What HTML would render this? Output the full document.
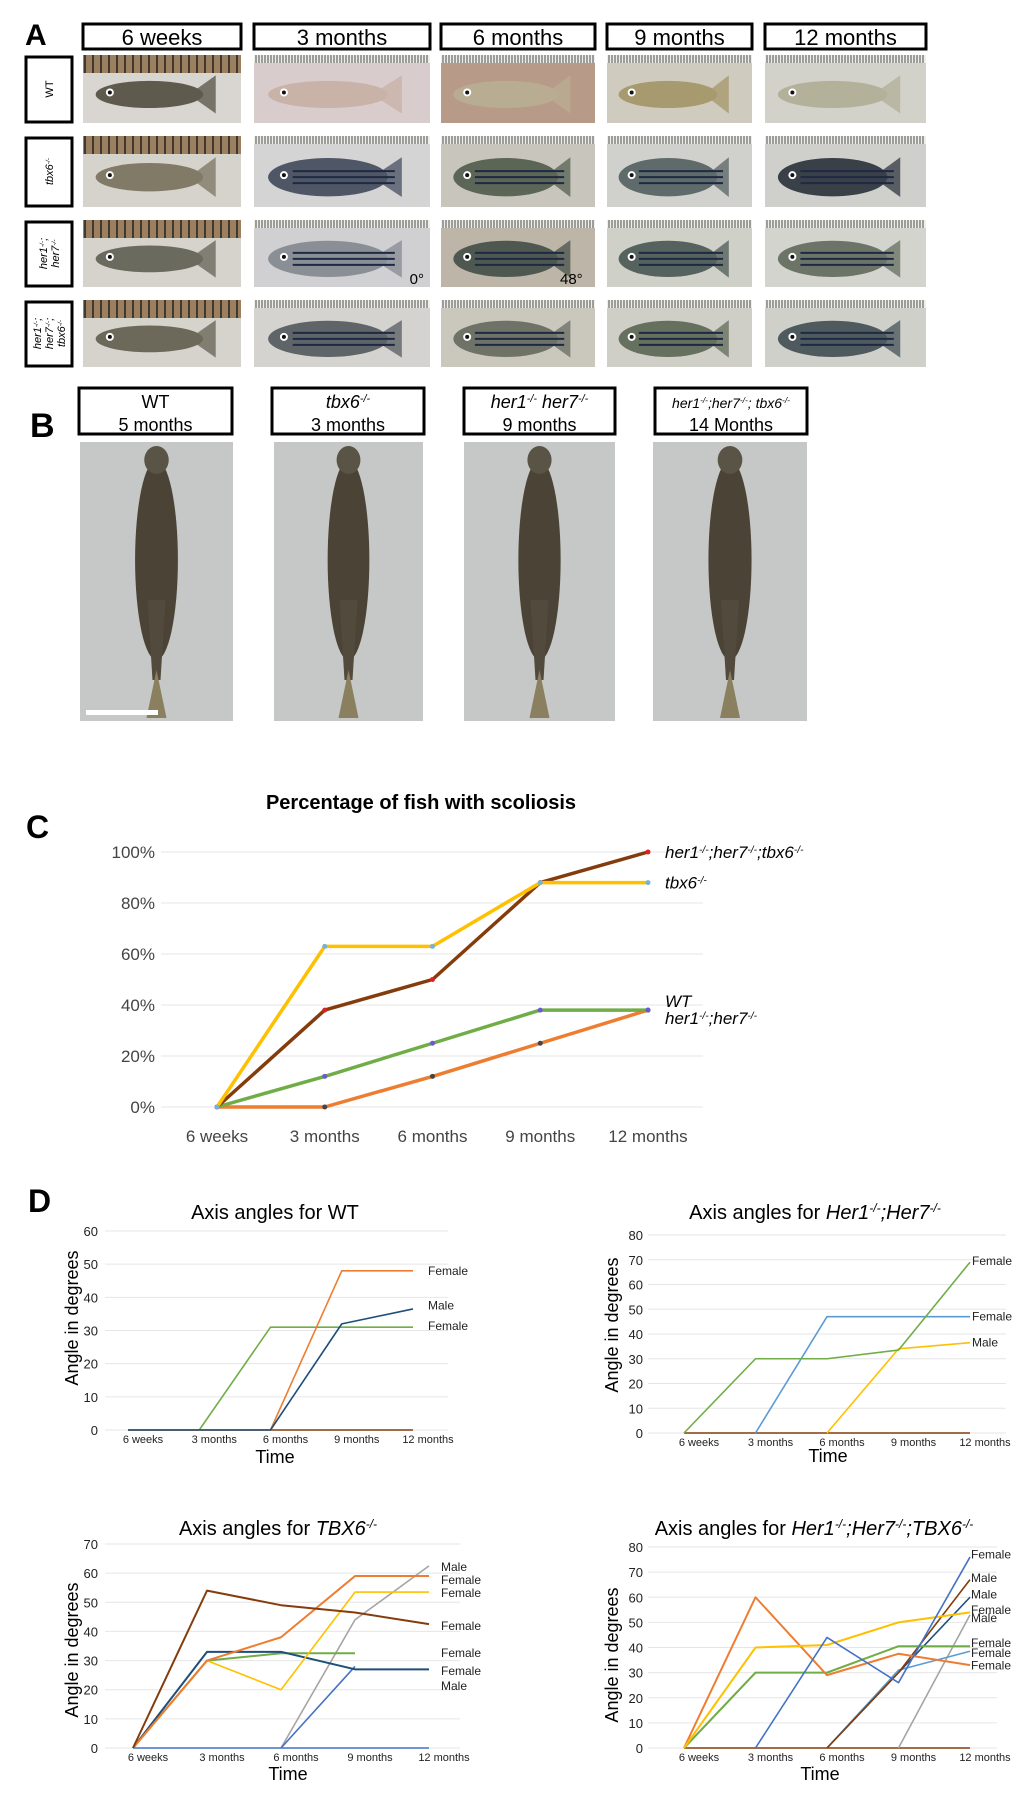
<!DOCTYPE html>
<html><head><meta charset="utf-8"><style>
html,body{margin:0;padding:0;background:#fff;}
svg{display:block;font-family:"Liberation Sans",sans-serif;}
</style></head><body>
<svg id="fig" width="1020" height="1809" viewBox="0 0 1020 1809" xmlns="http://www.w3.org/2000/svg"></svg>
<script>
// ---------- Panel C data ----------
const cCategories = ["6 weeks","3 months","6 months","9 months","12 months"];
const cTicks = [0,20,40,60,80,100];
const cTbx6 = [0,63,63,88,88];
const cTriple = [0,38,50,88,100];
const cWT = [0,12,25,38,38];
const cHer = [0,0,12,25,38];

// ---------- Panel D data ----------
const dCategories = ["6 weeks","3 months","6 months","9 months","12 months"];
const wtTicks = [0,10,20,30,40,50,60];
const wtOrange = [0,0,0,48,48];
const wtNavy = [0,0,0,32,36.5];
const wtGreen = [0,0,31,31,31];
const wtBrown = [0,0,0,0,0];
const wtLabels = ["Female","Male","Female"];
const wtLabelVals = [48,37.5,31.3];

const herTicks = [0,10,20,30,40,50,60,70,80];
const herGreen = [0,30,30,33.5,69];
const herBlue = [null,0,47,47,47];
const herYellow = [null,null,0,34,36.5];
const herBrown = [0,0,0,0,0];
const herLabels = ["Female","Female","Male"];
const herLabelVals = [69.5,47,36.5];

const tbxTicks = [0,10,20,30,40,50,60,70];
const tbxBlueBase = [0,0,0,0,0];
const tbxBrown = [0,54,49,46.5,42.5];
const tbxOrange = [0,30,38,59,59];
const tbxYellow = [0,30,20,53.5,53.5];
const tbxGreen = [0,30,32.5,32.5,null];
const tbxNavy = [0,33,33,27,27];
const tbxBlue = [null,null,0,28,null];
const tbxGray = [null,null,0,44,62.5];
const tbxLabels = ["Male","Female","Female","Female","Female","Female","Male"];
const tbxLabelVals = [62.1,57.6,53.2,41.9,32.6,26.4,21.3];

const triTicks = [0,10,20,30,40,50,60,70,80];
const triOrange = [0,60,29,37.5,33];
const triYellow = [0,40,41,50,54];
const triGreen = [0,30,30,40.5,40.5];
const triBrownBase = [0,0,0,0,0];
const triBlue = [null,0,44,26,76];
const triLight = [null,null,0,31,38.5];
const triBrown = [null,null,0,30,67];
const triNavy = [null,null,0,30,60];
const triGray = [null,null,null,0,53];
const triLabels = ["Female","Male","Male","Female","Male","Female","Female","Female"];
const triLabelVals = [77,67.6,61,55,51.7,41.8,37.8,32.9];

const NS = "http://www.w3.org/2000/svg";
const svg = document.getElementById("fig");
function mk(tag, attrs, parent){
  const e = document.createElementNS(NS, tag);
  for (const k in attrs) e.setAttribute(k, attrs[k]);
  (parent||svg).appendChild(e);
  return e;
}
function txt(x,y,s,size,opts,parent){
  opts = opts||{};
  const t = mk("text",{x:x,y:y,"font-size":size,fill:opts.fill||"#000","text-anchor":opts.anchor||"start"},parent);
  if (opts.weight) t.setAttribute("font-weight",opts.weight);
  if (opts.italic) t.setAttribute("font-style","italic");
  if (opts.transform) t.setAttribute("transform",opts.transform);
  t.textContent = s;
  return t;
}
function rich(x,y,parts,size,opts,parent){
  opts=opts||{};
  const t = mk("text",{x:x,y:y,"font-size":size,fill:"#000","text-anchor":opts.anchor||"start"},parent);
  if (opts.transform) t.setAttribute("transform",opts.transform);
  parts.forEach(p=>{
    const s = document.createElementNS(NS,"tspan");
    s.textContent = p[0];
    if (p[1]) { s.setAttribute("font-size", size*0.6); s.setAttribute("baseline-shift","super"); }
    if (p[2]) s.setAttribute("font-style","italic");
    t.appendChild(s);
  });
  return t;
}

// ---------------- Panel A ----------------
const aLabel = txt(25,45,"A",30,{weight:"bold"});


const colX = [[83,241],[254,430],[441,595],[607,752],[765,926]];
const colHead = ["6 weeks","3 months","6 months","9 months","12 months"];
colX.forEach((c,i)=>{
  const g = mk("g",{});
  
  
  mk("rect",{x:c[0],y:24,width:c[1]-c[0],height:25,fill:"#fff",stroke:"#000","stroke-width":3},g);
  txt((c[0]+c[1])/2,45,colHead[i],22,{anchor:"middle"},g);
});
const rowY = [[55,123],[136,207],[220,287],[300,367]];
const rowLab = [[["WT",0,0]],[["tbx6",0,1],["-/-",1,1]],[["her1",0,1],["-/-",1,1],[";",0,1]],[["her1",0,1],["-/-",1,1],[";",0,1]]];
const rowLab2 = [null,null,[["her7",0,1],["-/-",1,1]],[["her7",0,1],["-/-",1,1],[";",0,1]]];
const rowLab3 = [null,null,null,[["tbx6",0,1],["-/-",1,1]]];
rowY.forEach((r,i)=>{
  const g = mk("g",{});
  
  
  mk("rect",{x:26,y:r[0]+2,width:46,height:r[1]-r[0]-3,fill:"#fff",stroke:"#000","stroke-width":3},g);
  const cy=(r[0]+r[1])/2;
  const lines=[rowLab[i],rowLab2[i],rowLab3[i]].filter(Boolean);
  lines.forEach((ln,j)=>{
    const off=(j-(lines.length-1)/2)*12+4;
    const cx=49+off;
    rich(cx,cy,ln,11,{anchor:"middle",transform:"rotate(-90 "+cx+" "+cy+")"},g);
  });
});
const bgCol = [["#d9d6d2","#d8cccc","#b89a88","#cfcbbf","#d2d2ca"],
               ["#d6d3cd","#d4d4d4","#c8c6bc","#d0d0cc","#cfd0cb"],
               ["#d6d3cd","#d0d0d2","#bdb5a8","#cfd0c8","#d3d4ce"],
               ["#d6d3cd","#d4d3d0","#cac7bd","#cfcfc8","#cfd0ca"]];
const fishCol = [["#5e5a4e","#c9b3a8","#b8ad92","#a69a6e","#b4b19a"],
                 ["#807a66","#4f5666","#5c6656","#5f6a6a","#3a4048"],
                 ["#6b6a5e","#8a8f96","#4f5850","#55625e","#6c7468"],
                 ["#6c685a","#5f6468","#6f7266","#66705e","#4e5a5e"]];
rowY.forEach((r,i)=>{
  colX.forEach((c,j)=>{
    const g = mk("g",{});
    
    
    const w=c[1]-c[0], h=r[1]-r[0];
    mk("rect",{x:c[0],y:r[0],width:w,height:h,fill:bgCol[i][j]},g);
    const rh = j===0?18:8;
    mk("rect",{x:c[0],y:r[0],width:w,height:rh,fill:j===0?"#9c7f5e":"#eeeeea"},g);
    for(let k=c[0]+2;k<c[1];k+=(j===0?8:3)){
      mk("line",{x1:k,y1:r[0],x2:k,y2:r[0]+rh,stroke:"#222","stroke-width":j===0?1.5:0.8},g);
    }
    const cx=c[0]+w*0.42, cy=r[0]+h*0.58;
    mk("polygon",{points:(cx+w*0.25)+","+cy+" "+(cx+w*0.42)+","+(cy-h*0.28)+" "+(cx+w*0.42)+","+(cy+h*0.28),fill:fishCol[i][j],opacity:0.8},g);
    mk("ellipse",{cx:cx,cy:cy,rx:w*0.34,ry:h*(i===0||j===0?0.2:0.27),fill:fishCol[i][j]},g);
    if(i>0 && j>0){
      for(let s=-1;s<=1;s++) mk("line",{x1:cx-w*0.2,y1:cy+s*6,x2:cx+w*0.38,y2:cy+s*6,stroke:"#1e2a44","stroke-width":2},g);
    }
    mk("circle",{cx:cx-w*0.25,cy:cy-2,r:4,fill:"#fff"},g);
    mk("circle",{cx:cx-w*0.25,cy:cy-2,r:2,fill:"#111"},g);
  });
});
txt(424,284,"0°",15,{anchor:"end"});
txt(560,284,"48°",15);

// ---------------- Panel B ----------------
const bLabel = txt(30,437,"B",34,{weight:"bold"});


const bBox = [[79,232],[272,424],[464,615],[655,807]];
const bImg = [[80,233],[274,423],[464,615],[653,807]];
const bTitle1 = [[["WT",0,0]],[["tbx6",0,1],["-/-",1,1]],[["her1",0,1],["-/-",1,1],[" her7",0,1],["-/-",1,1]],[["her1",0,1],["-/-",1,1],[";her7",0,1],["-/-",1,1],["; tbx6",0,1],["-/-",1,1]]];
const bTitle2 = ["5 months","3 months","9 months","14 Months"];
bBox.forEach((c,i)=>{
  const g = mk("g",{});
  
  
  mk("rect",{x:c[0],y:388,width:c[1]-c[0],height:46,fill:"#fff",stroke:"#000","stroke-width":3},g);
  rich((c[0]+c[1])/2,408,bTitle1[i],i===3?14:18,{anchor:"middle"},g);
  txt((c[0]+c[1])/2,431,bTitle2[i],18,{anchor:"middle"},g);
});
bImg.forEach((c,i)=>{
  const g = mk("g",{});
  
  
  const w=c[1]-c[0];
  mk("rect",{x:c[0],y:442,width:w,height:279,fill:"#c5c8c6"},g);
  const cx=c[0]+w*0.5;
  mk("ellipse",{cx:cx,cy:560,rx:w*0.14,ry:100,fill:"#4b4336"},g);
  mk("polygon",{points:(cx-9)+",600 "+(cx+9)+",600 "+(cx+4)+",680 "+(cx-4)+",680",fill:"#524a3c"},g);
  mk("polygon",{points:cx+",670 "+(cx-10)+",718 "+(cx+10)+",718",fill:"#8a8060"},g);
  mk("ellipse",{cx:cx,cy:460,rx:w*0.08,ry:14,fill:"#5a5446"},g);
});
const sb = mk("rect",{x:86,y:710,width:72,height:5,fill:"#fff"});



// ---------------- Panel C ----------------
(function(){
  const x0=217, dx=(648-217)/4, yB=1107, yT=852;
  const X=i=>x0+i*dx, Y=v=>yB-(v/100)*(yB-yT);
  const cl = txt(26,838,"C",32,{weight:"bold"});
  
  
  const t = txt(421,809,"Percentage of fish with scoliosis",20,{anchor:"middle",weight:"bold"});
  
  
  cTicks.forEach(v=>{
    const gl = mk("line",{x1:161,x2:703,y1:Y(v),y2:Y(v),stroke:"#e4e4e4","stroke-width":1});
    
    
    const tl = txt(155,Y(v)+6,v+"%",17,{anchor:"end",fill:"#444"});
    
    
  });
  cCategories.forEach((c,i)=>{
    const tl = txt(X(i),1142,c,17,{anchor:"middle",fill:"#444"});
    
    
  });
  const series=[[cHer,"#ed7d31","#444"],[cWT,"#70ad47","#6a5acd"],[cTriple,"#843c0c","#e02020"],[cTbx6,"#ffc000","#7ab0d0"]];
  const names=["her1-her7","wt","triple","tbx6"];
  series.forEach((s,k)=>{
    const p = mk("polyline",{points:s[0].map((v,i)=>X(i)+","+Y(v)).join(" "),fill:"none",stroke:s[1],"stroke-width":3.5,"stroke-linejoin":"round"});
    
    
    s[0].forEach((v,i)=>{
      const m = mk("circle",{cx:X(i),cy:Y(v),r:2.5,fill:s[2]});
      
      
    });
  });
  const l1 = rich(665,Y(cTriple[4])+6,[["her1",0,1],["-/-",1,1],[";her7",0,1],["-/-",1,1],[";tbx6",0,1],["-/-",1,1]],17);
   
  const l2 = rich(665,Y(cTbx6[4])+6,[["tbx6",0,1],["-/-",1,1]],17);
   
  const l3 = rich(665,Y(cWT[4])-3,[["WT",0,1]],17);
   
  const l4 = rich(665,Y(cHer[4])+14,[["her1",0,1],["-/-",1,1],[";her7",0,1],["-/-",1,1]],17);
   
})();

// ---------------- Panel D ----------------
const dl = txt(28,1212,"D",32,{weight:"bold"});



function dChart(cfg){
  const g = mk("g",{});
  
  
  const ymax = cfg.ticks[cfg.ticks.length-1];
  const X=i=>cfg.x0+i*cfg.dx, Y=v=>cfg.yB-(v/ymax)*(cfg.yB-cfg.yT);
  const tt = rich(cfg.tx,cfg.ty,cfg.title,20,{anchor:"middle"},g);
  
  
  cfg.ticks.forEach(v=>{
    const gl = mk("line",{x1:cfg.gx1,x2:cfg.gx2,y1:Y(v),y2:Y(v),stroke:"#e6e6e6","stroke-width":1},g);
    
    
    const tl = txt(cfg.tickX,Y(v)+5,String(v),13,{anchor:"end",fill:"#222"},g);
    
    
  });
  dCategories.forEach((c,i)=>{
    const tl = txt(X(i)+15,cfg.yB+13,c,11,{anchor:"middle",fill:"#222"},g);
    
    
  });
  const xt = txt(cfg.timeX,cfg.timeY,"Time",18,{anchor:"middle"},g);
  
  
  const yt = txt(cfg.ytX,cfg.ytY,"Angle in degrees",18,{anchor:"middle",transform:"rotate(-90 "+cfg.ytX+" "+cfg.ytY+")"},g);
  
  
  cfg.series.forEach(s=>{
    const pts=[]; s[0].forEach((v,i)=>{ if(v!==null) pts.push(X(i)+","+Y(v)); });
    const p = mk("polyline",{points:pts.join(" "),fill:"none",stroke:s[1],"stroke-width":s[2]||1.6,"stroke-linejoin":"round"},g);
    
    
  });
  cfg.labels.forEach((l,i)=>{
    const t = txt(cfg.lx,Y(cfg.labelVals[i])+4,l,12,{fill:"#222"},g);
    
    
  });
}
dChart({name:"chart-wt",x0:128,dx:71.25,yB:1430,yT:1231,ticks:wtTicks,gx1:105,gx2:448,tickX:98,
  title:[["Axis angles for WT",0,0]],tx:275,ty:1219,timeX:275,timeY:1463,ytX:78,ytY:1318,lx:428,
  labels:wtLabels,labelVals:wtLabelVals,
  series:[[wtBrown,"#843c0c"],[wtGreen,"#70ad47"],[wtOrange,"#ed7d31"],[wtNavy,"#1f4e79"]]});
dChart({name:"chart-her1-her7",x0:684,dx:71.5,yB:1433,yT:1235,ticks:herTicks,gx1:648,gx2:1006,tickX:643,
  title:[["Axis angles for ",0,0],["Her1",0,1],["-/-",1,1],[";Her7",0,1],["-/-",1,1]],tx:815,ty:1219,timeX:828,timeY:1462,ytX:618,ytY:1325,lx:972,
  labels:herLabels,labelVals:herLabelVals,
  series:[[herBrown,"#843c0c"],[herBlue,"#5b9bd5"],[herYellow,"#ffc000"],[herGreen,"#70ad47"]]});
dChart({name:"chart-tbx6",x0:133,dx:74,yB:1748,yT:1544,ticks:tbxTicks,gx1:105,gx2:460,tickX:98,
  title:[["Axis angles for ",0,0],["TBX6",0,1],["-/-",1,1]],tx:278,ty:1535,timeX:288,timeY:1780,ytX:78,ytY:1650,lx:441,
  labels:tbxLabels,labelVals:tbxLabelVals,
  series:[[tbxBlueBase,"#4472c4"],[tbxGray,"#a5a5a5"],[tbxBlue,"#4472c4"],[tbxGreen,"#70ad47",2],[tbxNavy,"#1f4e79",2],[tbxYellow,"#ffc000"],[tbxOrange,"#ed7d31",2],[tbxBrown,"#843c0c",2]]});
dChart({name:"chart-triple",x0:684,dx:71.5,yB:1748,yT:1547,ticks:triTicks,gx1:648,gx2:997,tickX:643,
  title:[["Axis angles for ",0,0],["Her1",0,1],["-/-",1,1],[";Her7",0,1],["-/-",1,1],[";TBX6",0,1],["-/-",1,1]],tx:814,ty:1535,timeX:820,timeY:1780,ytX:618,ytY:1655,lx:971,
  labels:triLabels,labelVals:triLabelVals,
  series:[[triBrownBase,"#843c0c"],[triGray,"#a5a5a5"],[triLight,"#5b9bd5"],[triNavy,"#1f4e79"],[triBrown,"#843c0c"],[triGreen,"#70ad47",2],[triOrange,"#ed7d31",2],[triYellow,"#ffc000",2],[triBlue,"#4472c4"]]});
</script>
</body></html>
